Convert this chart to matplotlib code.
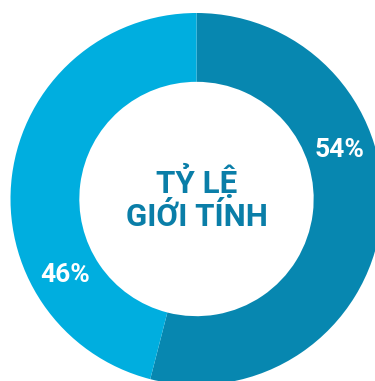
import matplotlib
matplotlib.use("Agg")
import matplotlib.pyplot as plt
import numpy as np

# data
labels = ["Nam", "Nữ"]
shares = [54, 46]
colors = ["#0787b0", "#00aedf"]
title_lines = ["TỶ LỆ", "GIỚI TÍNH"]

W, H = 375, 381
CX, CY, R = 196.5, 199.0, 186.0  # pixel geometry of the ring

plt.rcParams["font.family"] = ["Roboto", "DejaVu Sans"]

fig = plt.figure(figsize=(W / 100, H / 100), dpi=100)
ax = fig.add_axes([0, 0, 1, 1])

ax.pie(
    shares,
    colors=colors,
    startangle=90,
    counterclock=False,
    radius=1.0,
    wedgeprops=dict(width=0.37, edgecolor="none"),
)

# map pixels to data units
ax.set_xlim(-CX / R, (W - CX) / R)
ax.set_ylim((CY - H) / R, CY / R)
ax.set_aspect("auto")
ax.axis("off")

# percentage labels sit in the middle of the ring
label_angles = [18.9, 210.0]
mid_r = 0.815
for val, ang in zip(shares, label_angles):
    a = np.deg2rad(ang)
    ax.text(mid_r * np.cos(a), mid_r * np.sin(a), f"{val}%",
            ha="center", va="center", color="white",
            fontsize=19, fontweight="bold")

ax.text(0, 0.005, "\n".join(title_lines), ha="center", va="center",
        color="#0a7ea8", fontsize=22.5, fontweight="bold", linespacing=1.15)

fig.savefig("out.png", dpi=100, facecolor="white")
